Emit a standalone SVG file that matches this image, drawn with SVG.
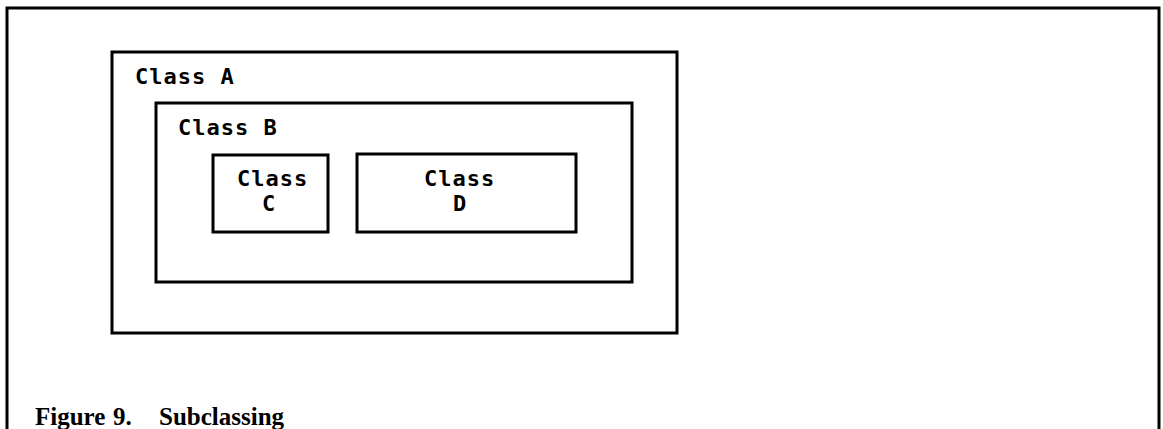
<svg xmlns="http://www.w3.org/2000/svg" width="1163" height="429" viewBox="0 0 1163 429">
<style>
.box{fill:none;stroke:#000;stroke-width:3}
.lbl{font-family:"DejaVu Sans Mono","Liberation Mono",monospace;font-weight:bold;font-size:22px;letter-spacing:1px;fill:#000}
.cap{font-family:"Liberation Serif","Times New Roman",serif;font-weight:bold;font-size:25px;fill:#000}
</style>
<rect width="1163" height="429" fill="#fff"/>
<g id="frame"><path class="box" d="M7,429 V8 H1159 V429" stroke-width="2.5"/></g>
<g id="classA"><rect class="box" x="112" y="52" width="565" height="281"/><text class="lbl" x="135" y="84">Class A</text></g>
<g id="classB"><rect class="box" x="156" y="103" width="476" height="179"/><text class="lbl" x="178" y="135">Class B</text></g>
<g id="classC"><rect class="box" x="213" y="155" width="115" height="77"/><text class="lbl" x="237" y="186">Class</text><text class="lbl" x="262" y="211">C</text></g>
<g id="classD"><rect class="box" x="357" y="154" width="219" height="78"/><text class="lbl" x="424" y="186">Class</text><text class="lbl" x="453" y="211">D</text></g>
<g id="connectors"></g>
<g id="caption"><text class="cap" x="35" y="425">Figure</text><text class="cap" x="113" y="425">9.</text><text class="cap" x="159" y="425">Subclassing</text></g>
</svg>
